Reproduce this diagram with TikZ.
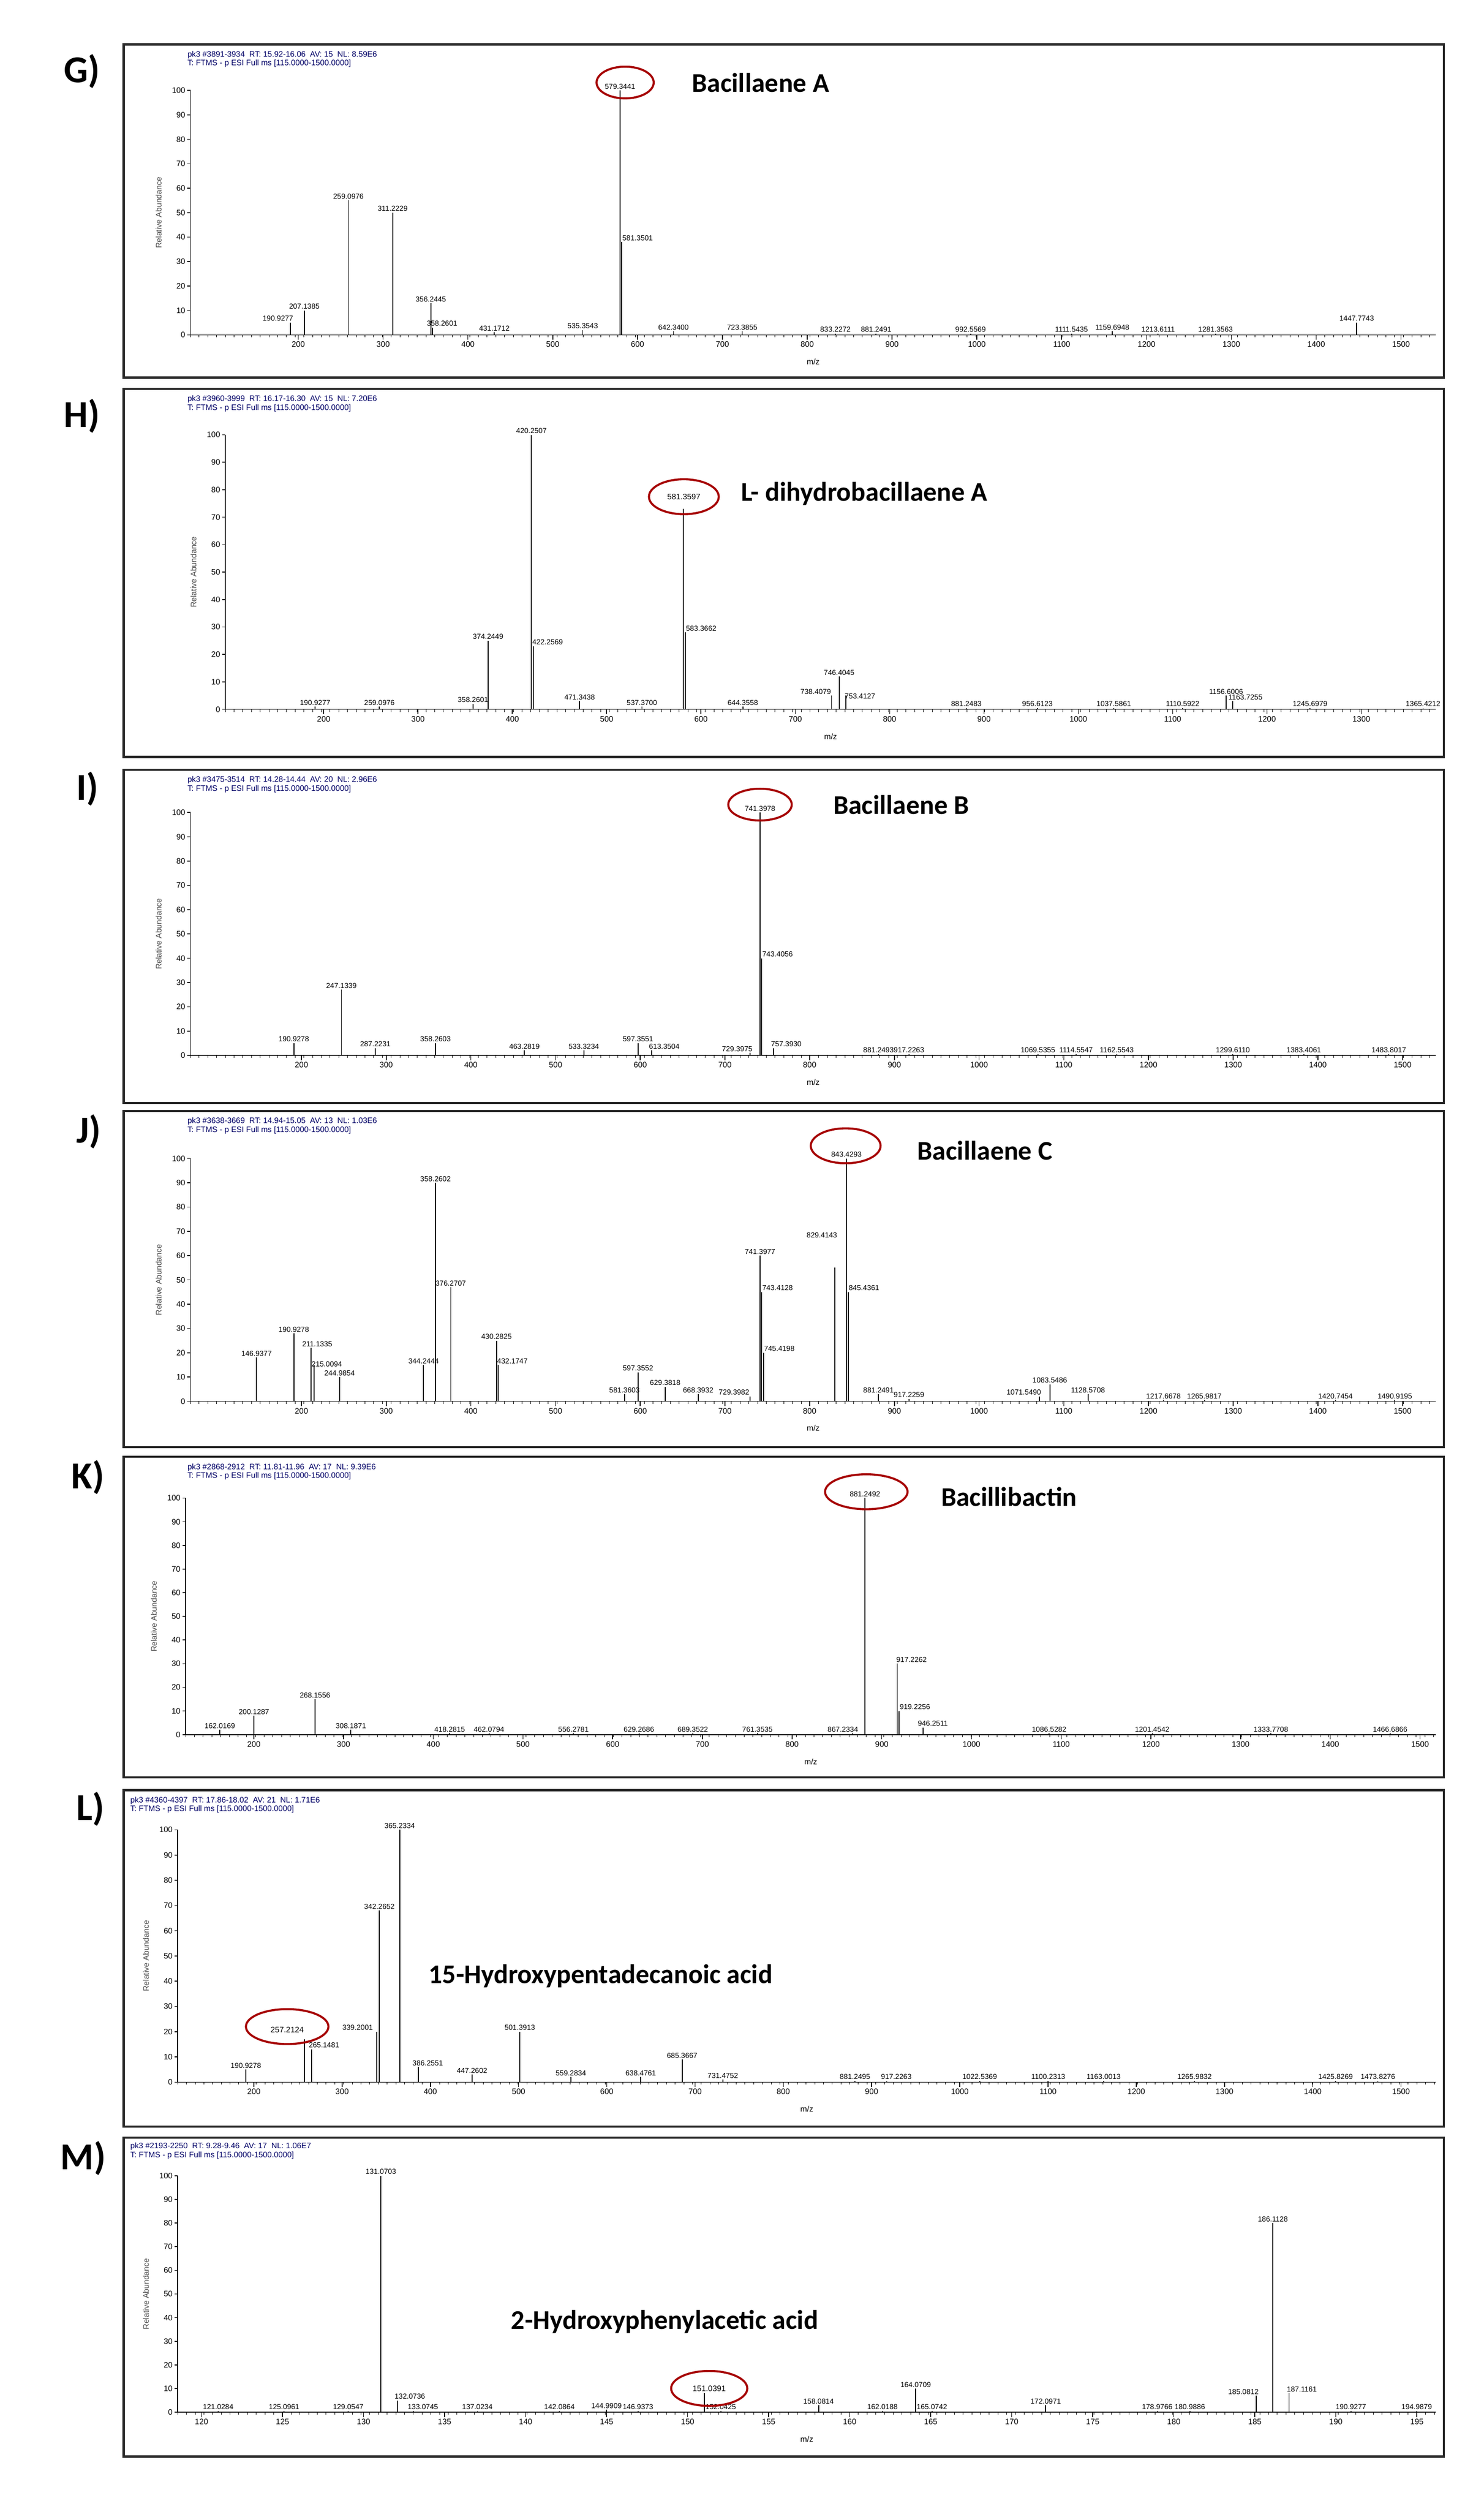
\documentclass[tikz,border=0pt]{standalone}
\usepackage{fontspec}
\setmainfont{Liberation Sans}
\newfontfamily\calfont{Carlito}
\begin{document}
\begin{tikzpicture}[x=1pt,y=-1pt,
  box/.style={draw=black!85,line width=1.4pt},
  plab/.style={font=\calfont\bfseries\fontsize{24}{26}\selectfont,anchor=west,inner sep=0},
  hdr/.style={font=\fontsize{5}{5.6}\selectfont,text=blue!40!black,anchor=north west,align=left,inner sep=0},
  ttl/.style={font=\calfont\bfseries\fontsize{17}{19}\selectfont,anchor=west,inner sep=0},
  tick/.style={font=\fontsize{5}{5}\selectfont,inner sep=1pt},
  pl/.style={font=\fontsize{4.6}{5}\selectfont,inner sep=0.6pt,above},
  ax/.style={line width=0.5pt},
  peak/.style={line width=0.6pt},
  circ/.style={draw=red!65!black,line width=1.3pt}]
\useasboundingbox[fill=white] (0,0) rectangle (935,1581);
\newcommand\setaxis[6]{\def\Xa{#1}\def\Va{#2}\def\Xb{#3}\def\Vb{#4}\def\Yb{#5}\def\Yt{#6}}
\newcommand\axes[3]{%
  \draw[ax] (#1,\Yb) -- (#2,\Yb); \draw[ax] (#1,\Yb) -- (#1,\Yt);
  \foreach \v in {#3}{\pgfmathsetmacro\px{\Xa+(\v-\Va)/(\Vb-\Va)*(\Xb-\Xa)}
    \draw[ax] (\px,\Yb) -- ++(0,3) node[below,tick]{\v};}
  \pgfmathsetmacro\xs{#1}\pgfmathsetmacro\xn{#1+5.5}
  \foreach \xx in {\xs,\xn,...,#2}{\draw[line width=0.3pt] (\xx,\Yb) -- ++(0,1.6);}
  \foreach \t in {0,10,...,100}{\pgfmathsetmacro\py{\Yb-\t/100*(\Yb-\Yt)}
    \draw[ax] (#1,\py) -- ++(-2,0) node[left,tick]{\t};}
  \pgfmathsetmacro\ym{(\Yb+\Yt)/2}
  \node[tick,rotate=90,text=black!70] at (#1-20,\ym) {Relative Abundance};
  \pgfmathsetmacro\xm{(#1+#2)/2}
  \node[tick] at (\xm,\Yb+17) {m/z};}
\newcommand\pk[3]{\pgfmathsetmacro\px{\Xa+(#1-\Va)/(\Vb-\Va)*(\Xb-\Xa)}
  \pgfmathsetmacro\py{\Yb-(#2)/100*(\Yb-\Yt)}
  \draw[peak] (\px,\Yb) -- (\px,\py) node[pl]{#3};}
\newcommand\pkx[5]{\pgfmathsetmacro\px{\Xa+(#1-\Va)/(\Vb-\Va)*(\Xb-\Xa)}
  \pgfmathsetmacro\py{\Yb-(#2)/100*(\Yb-\Yt)}
  \draw[peak] (\px,\Yb) -- (\px,\py) node[pl,xshift=#4,yshift=#5]{#3};}
\newcommand\pks[1]{\foreach \m/\h/\l in {#1}{\pk{\m}{\h}{\l}}}

% ---------- G
\draw[box] (78,28) rectangle (910,238);
\node[plab] at (40,45) {G)};
\node[hdr] at (118,32) {pk3 \#3891-3934 \ RT: 15.92-16.06 \ AV: 15 \ NL: 8.59E6\\T: FTMS - p ESI Full ms [115.0000-1500.0000]};
\setaxis{188}{200}{883}{1500}{211}{57}
\axes{120}{905}{200,300,...,1500}
\pks{579.3441/100/579.3441,259.0976/55/259.0976,311.2229/50/311.2229,356.2445/13/356.2445,207.1385/10/207.1385,431.1712/1/431.1712,535.3543/2/535.3543,642.3400/1.5/642.3400,723.3855/1.5/723.3855,833.2272/0.5/833.2272,881.2491/0.5/881.2491,992.5569/0.5/992.5569,1111.5435/0.5/1111.5435,1159.6948/1.5/1159.6948,1213.6111/0.5/1213.6111,1281.3563/0.5/1281.3563,1447.7743/5/1447.7743}
\pkx{581.3501}{38}{581.3501}{10pt}{0pt}
\pkx{190.9277}{5}{190.9277}{-8pt}{0pt}
\pkx{358.2601}{3}{358.2601}{6pt}{0pt}
\draw[circ] (394,52) ellipse (18 and 10);
\node[ttl] at (436,52) {Bacillaene A};

% ---------- H
\draw[box] (78,245) rectangle (910,477);
\node[plab] at (40,262) {H)};
\node[hdr] at (118,249) {pk3 \#3960-3999 \ RT: 16.17-16.30 \ AV: 15 \ NL: 7.20E6\\T: FTMS - p ESI Full ms [115.0000-1500.0000]};
\setaxis{204}{200}{858}{1300}{447}{274}
\axes{142}{905}{200,300,...,1300}
\pks{420.2507/100/420.2507,581.3597/73/,374.2449/25/374.2449,746.4045/12/746.4045,471.3438/3/471.3438,1156.6006/5/1156.6006,190.9277/1/190.9277,259.0976/1/259.0976,358.2601/2/358.2601,537.3700/1/537.3700,644.3558/1/644.3558,881.2483/0.5/881.2483,956.6123/0.5/956.6123,1037.5861/0.5/1037.5861,1110.5922/0.5/1110.5922,1245.6979/0.5/1245.6979,1365.4212/0.5/1365.4212}
\pkx{583.3662}{28}{583.3662}{10pt}{0pt}
\pkx{422.2569}{23}{422.2569}{9pt}{0pt}
\pkx{738.4079}{5}{738.4079}{-10pt}{0pt}
\pkx{753.4127}{5}{753.4127}{9pt}{-3pt}
\pkx{1163.7255}{3}{1163.7255}{8pt}{0pt}
\node[tick] (h1) at (431,313) {581.3597};
\draw[circ] (431,313) ellipse (22 and 11);
\node[ttl] at (467,311) {L- dihydrobacillaene A};

% ---------- I
\draw[box] (78,485) rectangle (910,695);
\node[plab] at (48,497) {I)};
\node[hdr] at (118,489) {pk3 \#3475-3514 \ RT: 14.28-14.44 \ AV: 20 \ NL: 2.96E6\\T: FTMS - p ESI Full ms [115.0000-1500.0000]};
\setaxis{190}{200}{884}{1500}{665}{512}
\axes{120}{905}{200,300,...,1500}
\pks{741.3978/100/741.3978,247.1339/27/247.1339,190.9278/5/190.9278,287.2231/3/287.2231,358.2603/5/358.2603,463.2819/2/463.2819,533.3234/2/533.3234,597.3551/5/597.3551,881.2493/0.5/881.2493,917.2263/0.5/917.2263,1069.5355/0.5/1069.5355,1114.5547/0.5/1114.5547,1162.5543/0.5/1162.5543,1299.6110/0.5/1299.6110,1383.4061/0.5/1383.4061,1483.8017/0.5/1483.8017}
\pkx{743.4056}{40}{743.4056}{10pt}{0pt}
\pkx{613.3504}{2}{613.3504}{8pt}{0pt}
\pkx{729.3975}{1}{729.3975}{-8pt}{0pt}
\pkx{757.3930}{3}{757.3930}{8pt}{0pt}
\draw[circ] (479,507) ellipse (20 and 10);
\node[ttl] at (525,507) {Bacillaene B};

% ---------- J
\draw[box] (78,700) rectangle (910,912);
\node[plab] at (48,713) {J)};
\node[hdr] at (118,704) {pk3 \#3638-3669 \ RT: 14.94-15.05 \ AV: 13 \ NL: 1.03E6\\T: FTMS - p ESI Full ms [115.0000-1500.0000]};
\setaxis{190}{200}{884}{1500}{883}{730}
\axes{120}{905}{200,300,...,1500}
\pks{843.4293/100/843.4293,741.3977/60/741.3977,358.2602/90/358.2602,376.2707/47/376.2707,430.2825/25/430.2825,190.9278/28/190.9278,146.9377/18/146.9377,244.9854/10/244.9854,344.2444/15/344.2444,581.3603/3/581.3603,597.3552/12/597.3552,629.3818/6/629.3818,668.3932/3/668.3932,881.2491/3/881.2491,917.2259/1/917.2259,1083.5486/7/1083.5486,1128.5708/3/1128.5708,1217.6678/0.5/1217.6678,1265.9817/0.5/1265.9817,1420.7454/0.5/1420.7454,1490.9195/0.5/1490.9195}
\pkx{845.4361}{45}{845.4361}{10pt}{0pt}
\pkx{829.4143}{55}{829.4143}{-8pt}{18pt}
\pkx{743.4128}{45}{743.4128}{10pt}{0pt}
\pkx{745.4198}{20}{745.4198}{10pt}{0pt}
\pkx{432.1747}{15}{432.1747}{9pt}{0pt}
\pkx{211.1335}{22}{211.1335}{4pt}{0pt}
\pkx{215.0094}{15}{215.0094}{8pt}{-2pt}
\pkx{729.3982}{2}{729.3982}{-10pt}{0pt}
\pkx{1071.5490}{2}{1071.5490}{-10pt}{0pt}
\draw[circ] (533,722) ellipse (22 and 11);
\node[ttl] at (578,725) {Bacillaene C};

% ---------- K
\draw[box] (78,918) rectangle (910,1120);
\node[plab] at (45,931) {K)};
\node[hdr] at (118,922) {pk3 \#2868-2912 \ RT: 11.81-11.96 \ AV: 17 \ NL: 9.39E6\\T: FTMS - p ESI Full ms [115.0000-1500.0000]};
\setaxis{160}{200}{895}{1500}{1093}{944}
\axes{117}{905}{200,300,...,1500}
\pks{881.2492/100/881.2492,268.1556/15/268.1556,200.1287/8/200.1287,162.0169/2/162.0169,308.1871/2/308.1871,418.2815/0.5/418.2815,462.0794/0.5/462.0794,556.2781/0.5/556.2781,629.2686/0.5/629.2686,689.3522/0.5/689.3522,761.3535/0.5/761.3535,1086.5282/0.5/1086.5282,1201.4542/0.5/1201.4542,1333.7708/0.5/1333.7708,1466.6866/0.5/1466.6866}
\pkx{917.2262}{30}{917.2262}{9pt}{0pt}
\pkx{919.2256}{10}{919.2256}{10pt}{0pt}
\pkx{946.2511}{3}{946.2511}{6pt}{0pt}
\pkx{867.2334}{0.5}{867.2334}{-6pt}{0pt}
\draw[circ] (546,940) ellipse (26 and 11);
\node[ttl] at (593,943) {Bacillibactin};

% ---------- L
\draw[box] (78,1128) rectangle (910,1340);
\node[plab] at (48,1140) {L)};
\node[hdr] at (82,1132) {pk3 \#4360-4397 \ RT: 17.86-18.02 \ AV: 21 \ NL: 1.71E6\\T: FTMS - p ESI Full ms [115.0000-1500.0000]};
\setaxis{160}{200}{883}{1500}{1312}{1153}
\axes{112}{905}{200,300,...,1500}
\pks{365.2334/100/365.2334,342.2652/68/342.2652,257.2124/17/,190.9278/5/190.9278,447.2602/3/447.2602,501.3913/20/501.3913,559.2834/2/559.2834,638.4761/2/638.4761,685.3667/9/685.3667,731.4752/1/731.4752,881.2495/0.5/881.2495,1022.5369/0.5/1022.5369,1100.2313/0.5/1100.2313,1163.0013/0.5/1163.0013,1265.9832/0.5/1265.9832,1425.8269/0.5/1425.8269,1473.8276/0.5/1473.8276}
\pkx{339.2001}{20}{339.2001}{-12pt}{0pt}
\pkx{265.1481}{13}{265.1481}{8pt}{0pt}
\pkx{386.2551}{6}{386.2551}{6pt}{0pt}
\pkx{917.2263}{0.5}{917.2263}{6pt}{0pt}
\node[tick] (l1) at (181,1279) {257.2124};
\draw[circ] (181,1277) ellipse (26 and 11);
\node[ttl] at (270,1245) {15-Hydroxypentadecanoic acid};

% ---------- M
\draw[box] (78,1347) rectangle (910,1548);
\node[plab] at (38,1360) {M)};
\node[hdr] at (82,1350) {pk3 \#2193-2250 \ RT: 9.28-9.46 \ AV: 17 \ NL: 1.06E7\\T: FTMS - p ESI Full ms [115.0000-1500.0000]};
\setaxis{127}{120}{893}{195}{1520}{1371}
\axes{112}{905}{120,125,...,195}
\pks{131.0703/100/131.0703,186.1128/80/186.1128,137.0234/0.5/137.0234,142.0864/0.5/142.0864,144.9909/1/144.9909,146.9373/0.5/146.9373,151.0391/8/,152.0425/0.5/152.0425,158.0814/3/158.0814,162.0188/0.5/162.0188,164.0709/10/164.0709,165.0742/0.5/165.0742,172.0971/3/172.0971,178.9766/0.5/178.9766,180.9886/0.5/180.9886,190.9277/0.5/190.9277,194.9879/0.5/194.9879,121.0284/0.5/121.0284,125.0961/0.5/125.0961,129.0547/0.5/129.0547}
\pkx{132.0736}{5}{132.0736}{8pt}{0pt}
\pkx{133.0745}{0.5}{133.0745}{6pt}{0pt}
\pkx{185.0812}{7}{185.0812}{-8pt}{0pt}
\pkx{187.1161}{8}{187.1161}{8pt}{0pt}
\node[tick] (m1) at (447,1505) {151.0391};
\draw[circ] (447,1505) ellipse (24 and 11);
\node[ttl] at (322,1463) {2-Hydroxyphenylacetic acid};
\end{tikzpicture}
\end{document}
